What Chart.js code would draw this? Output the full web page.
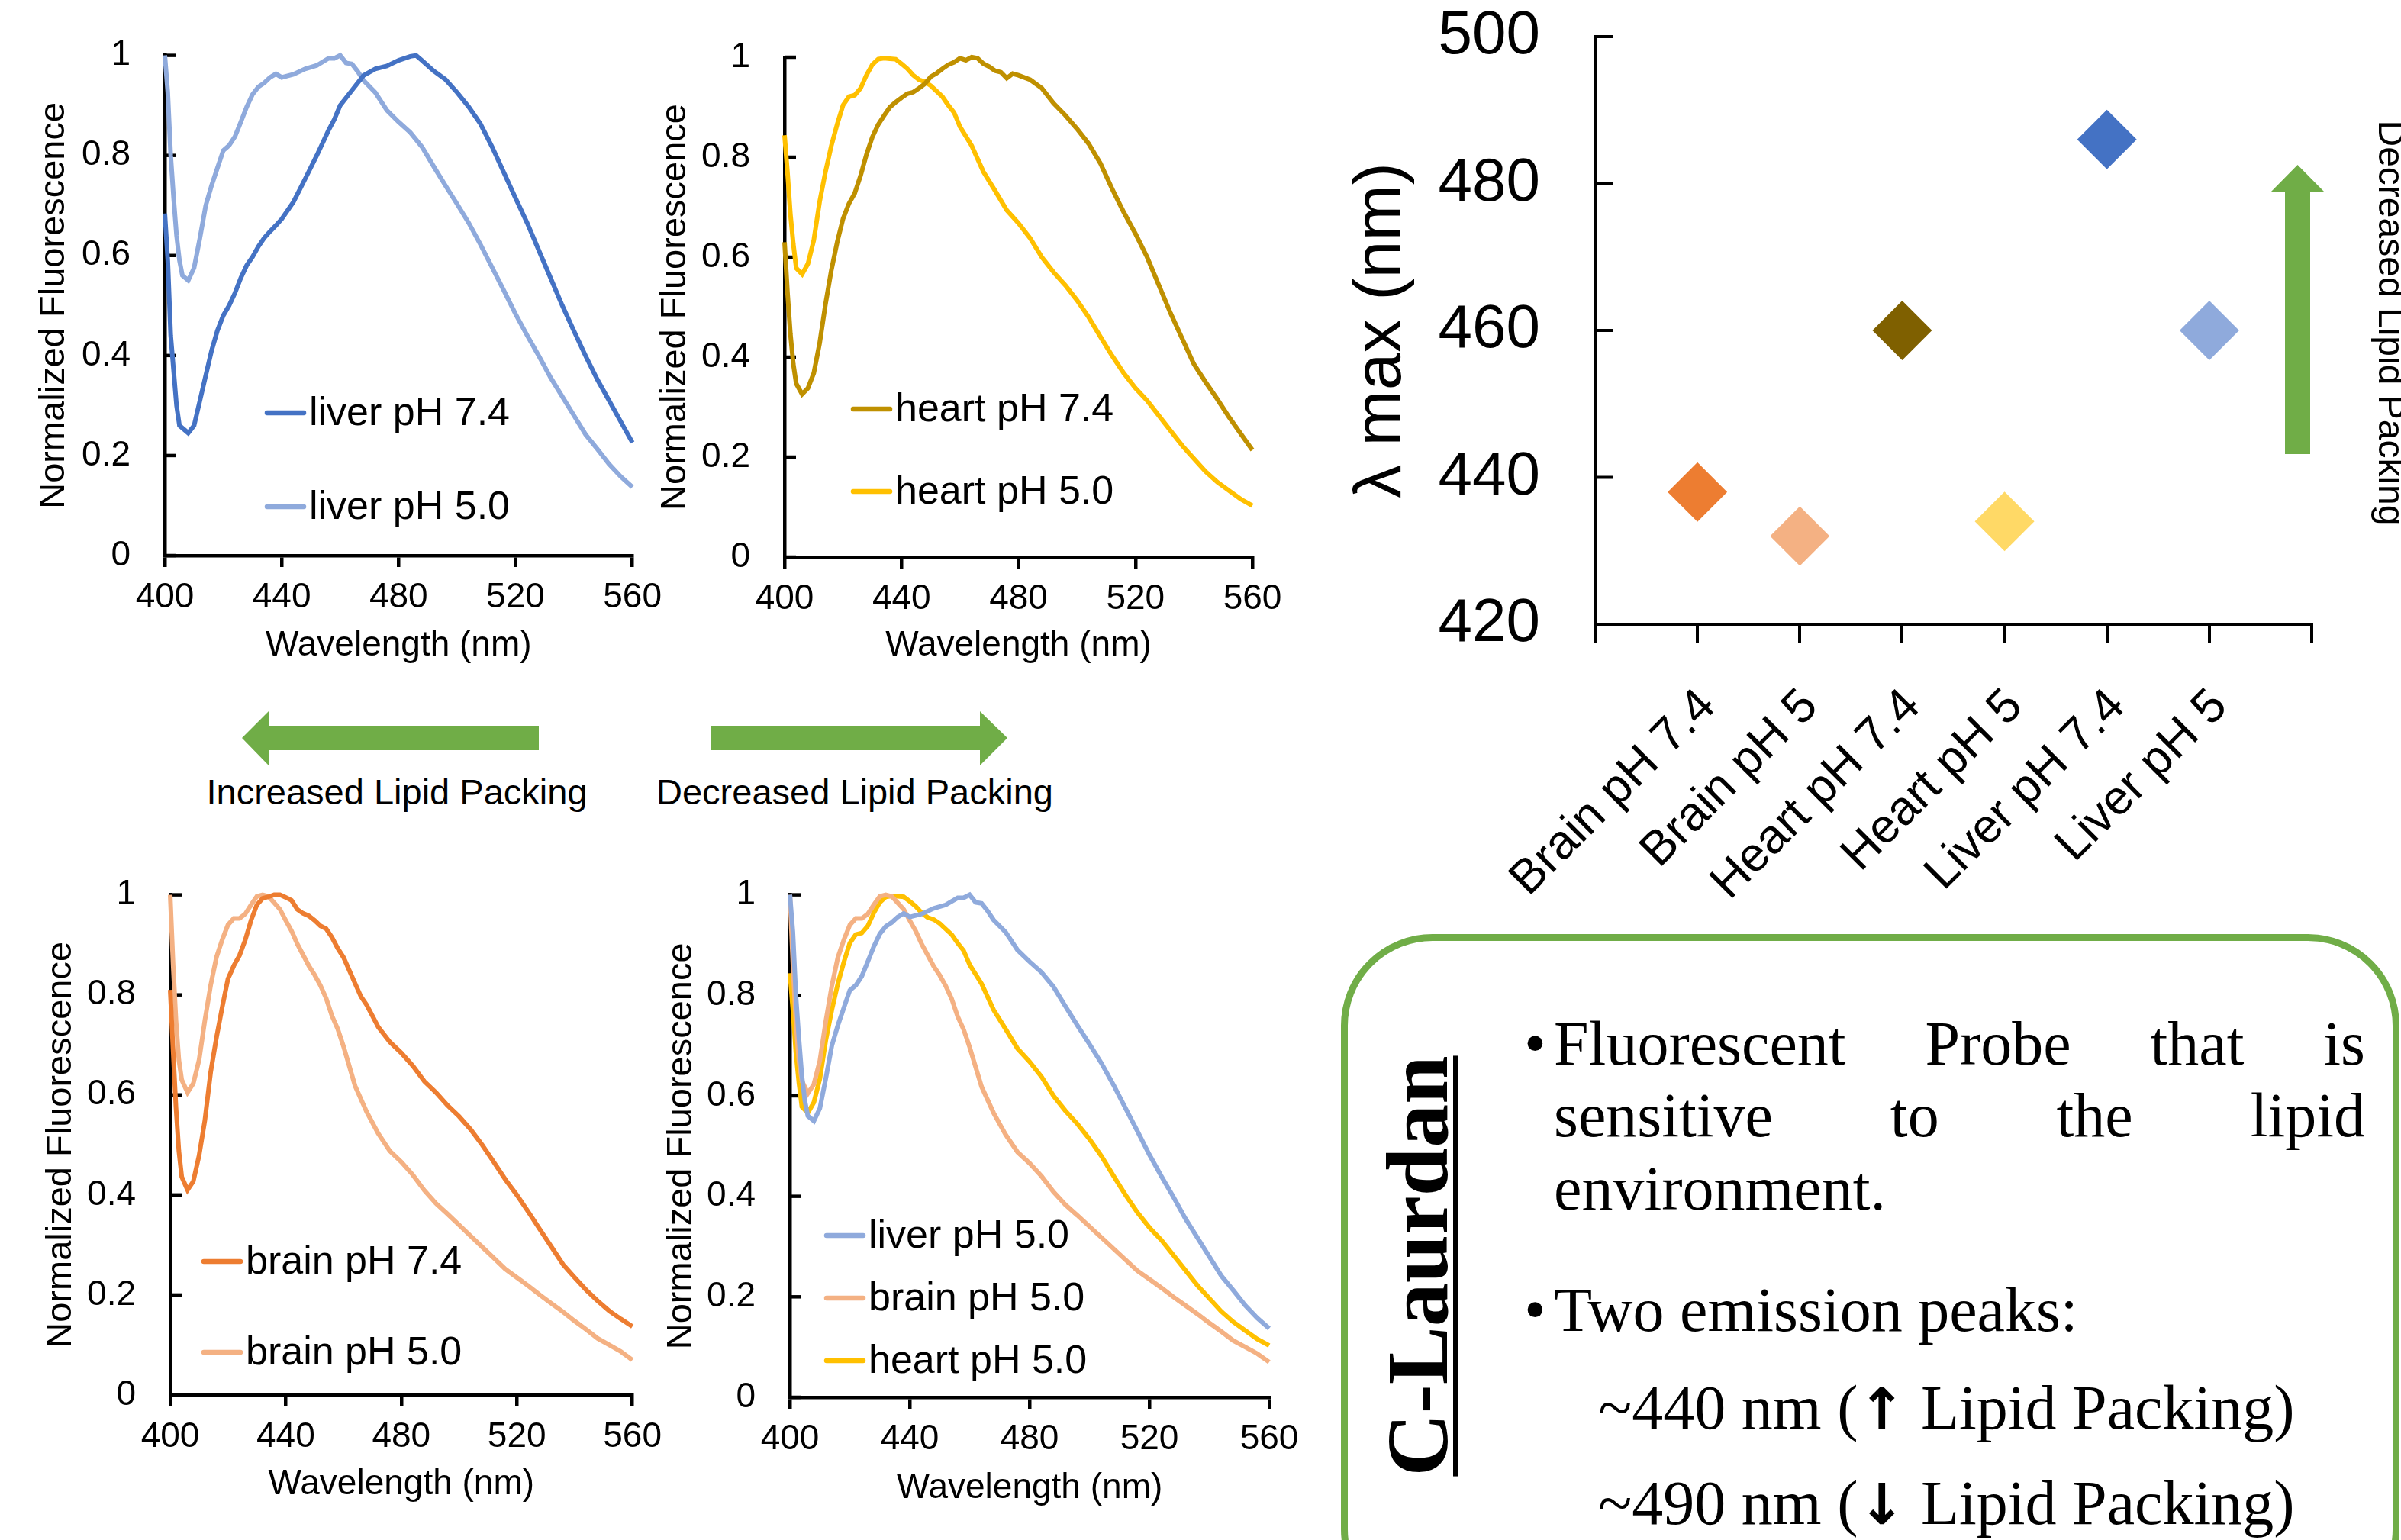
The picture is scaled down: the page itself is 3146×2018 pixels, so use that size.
<!DOCTYPE html>
<html>
<head>
<meta charset="utf-8">
<script src="https://cdn.jsdelivr.net/npm/chart.js@4.4.1/dist/chart.umd.min.js"></script>
<style>
  html, body { margin: 0; padding: 0; background: #fff; }
  #page { position: relative; width: 3146px; height: 2018px; overflow: hidden; background: #fff; }
  canvas { position: absolute; }
  .txt { position: absolute; white-space: nowrap; color: #000; }
  .sans { font-family: 'Liberation Sans', Arial, sans-serif; }
  .serif { font-family: 'Liberation Serif', 'Times New Roman', serif; }
  .arrow { position: absolute; background: #70AD47; }
  .just { text-align: justify; text-align-last: justify; white-space: normal; }
</style>
</head>
<body>
<div id="page">
  <canvas id="liverChart" width="880" height="900" style="left:0;top:0"></canvas>
  <canvas id="heartChart" width="880" height="900" style="left:840px;top:0"></canvas>
  <canvas id="brainChart" width="880" height="918" style="left:0;top:1100px"></canvas>
  <canvas id="acidChart" width="880" height="918" style="left:840px;top:1100px"></canvas>
  <canvas id="lambdaChart" width="1406" height="1272" style="left:1740px;top:-72px"></canvas>

  <!-- arrows between the spectra -->
  <div class="arrow" style="left:317px;top:932px;width:389px;height:71px;clip-path:polygon(0 35px,35px 0,35px 19px,389px 19px,389px 51px,35px 51px,35px 71px)"></div>
  <div class="arrow" style="left:931px;top:932px;width:389px;height:71px;clip-path:polygon(0 19px,353px 19px,353px 0,389px 35px,353px 71px,353px 51px,0 51px)"></div>
  <div class="txt sans" style="left:120px;top:1014px;width:800px;text-align:center;font-size:47px;line-height:47px">Increased Lipid Packing</div>
  <div class="txt sans" style="left:720px;top:1014px;width:800px;text-align:center;font-size:47px;line-height:47px">Decreased Lipid Packing</div>

  <!-- arrow next to the scatter -->
  <div class="arrow" style="left:2975px;top:216px;width:71px;height:379px;clip-path:polygon(35.5px 0,71px 36px,52px 36px,52px 379px,19px 379px,19px 36px,0 36px)"></div>
  <div class="txt sans" style="left:2833px;top:399px;width:600px;text-align:center;font-size:48px;line-height:48px;transform:rotate(90deg)">Decreased Lipid Packing</div>

  <!-- C-Laurdan box -->
  <div style="position:absolute;left:1757px;top:1224px;width:1387px;height:900px;box-sizing:border-box;border:9px solid #70AD47;border-radius:120px"></div>
  <div class="txt serif" style="left:1508px;top:1602px;width:700px;text-align:center;font-size:114px;line-height:114px;font-weight:bold;text-decoration:underline;text-decoration-thickness:6px;text-underline-offset:8px;transform:rotate(-90deg)">C-Laurdan</div>
  <div class="txt serif" style="left:1997px;top:1327px;font-size:82px;line-height:82px">&bull;</div>
  <div class="txt serif just" style="left:2036px;top:1327px;width:1063px;font-size:82px;line-height:82px">Fluorescent Probe that is</div>
  <div class="txt serif just" style="left:2036px;top:1421px;width:1063px;font-size:82px;line-height:82px">sensitive to the lipid</div>
  <div class="txt serif" style="left:2036px;top:1517px;font-size:82px;line-height:82px">environment.</div>
  <div class="txt serif" style="left:1997px;top:1676px;font-size:82px;line-height:82px">&bull;</div>
  <div class="txt serif" style="left:2036px;top:1676px;font-size:82px;line-height:82px">Two emission peaks:</div>
  <div class="txt serif" style="left:2094px;top:1804px;font-size:82px;line-height:82px">~440 nm (<span style="font-family:'DejaVu Sans';font-weight:bold;font-size:74px">&uarr;</span> Lipid Packing)</div>
  <div class="txt serif" style="left:2094px;top:1929px;font-size:82px;line-height:82px">~490 nm (<span style="font-family:'DejaVu Sans';font-weight:bold;font-size:74px">&darr;</span> Lipid Packing)</div>
</div>

<script>
Chart.defaults.font.family = "'Liberation Sans', Arial, sans-serif";
Chart.defaults.color = '#000';

// emission spectra (wavelength nm / normalized intensity)
var liver74Nm = [400, 401, 402, 404, 405, 407, 408, 410, 412, 414, 416, 418, 420, 422, 424, 426, 428, 430, 432, 434, 436, 438, 440,
                 444, 448, 452, 456, 458, 460, 464, 468, 472, 476, 480, 484, 486, 488,
                 492, 496, 500, 504, 508, 512, 516, 520, 524, 528, 532, 536, 540, 544, 548, 552, 556, 560];
var liver74 = [0.684, 0.59, 0.44, 0.30, 0.26, 0.25, 0.245, 0.26, 0.31, 0.36, 0.41, 0.45, 0.48, 0.50, 0.525, 0.555, 0.58, 0.597, 0.618, 0.635, 0.648, 0.66, 0.673,
               0.707, 0.753, 0.80, 0.85, 0.872, 0.90, 0.93, 0.96, 0.973, 0.979, 0.99, 0.998, 1.0, 0.99,
               0.969, 0.952, 0.926, 0.897, 0.863, 0.817, 0.766, 0.715, 0.665, 0.61, 0.555, 0.50, 0.449, 0.399, 0.352, 0.31, 0.268, 0.226];

var liver50Nm = [400, 401, 402, 403, 404, 405, 406, 408, 410, 412, 414, 416, 418, 420, 422, 424, 426, 428, 430, 432, 434, 436, 438, 440,
                 444, 448, 452, 456, 458, 460, 462, 464, 466, 468,
                 472, 476, 480, 484, 488, 492, 496, 500, 504, 508, 512, 516, 520, 524, 528, 532, 536, 540, 544, 548, 552, 556, 560];
var liver50 = [1.0, 0.926, 0.80, 0.715, 0.64, 0.59, 0.56, 0.55, 0.575, 0.635, 0.70, 0.74, 0.775, 0.81, 0.82, 0.838, 0.867, 0.897, 0.922, 0.937, 0.945, 0.956, 0.963, 0.956,
               0.962, 0.973, 0.98, 0.994, 0.994, 1.0, 0.985, 0.983, 0.968, 0.95,
               0.926, 0.89, 0.867, 0.846, 0.817, 0.778, 0.74, 0.703, 0.665, 0.622, 0.576, 0.53, 0.483, 0.44, 0.399, 0.356, 0.318, 0.28, 0.242, 0.213, 0.183, 0.158, 0.137];

var heart74Nm = [400, 401, 402, 403, 404, 406, 408, 410, 412, 414, 416, 418, 420, 422, 424, 426, 428, 430, 432, 434, 436, 438, 440,
                 442, 444, 446, 448, 450, 452, 454, 456, 458, 460, 462, 464, 466, 468, 470, 472, 474, 476, 478,
                 480, 484, 488, 492, 496, 500, 504, 508, 512, 516, 520, 524, 528, 532, 536, 540, 544, 548, 552, 556, 560];
var heart74 = [0.63, 0.53, 0.446, 0.386, 0.347, 0.326, 0.338, 0.368, 0.428, 0.506, 0.574, 0.63, 0.677, 0.707, 0.728, 0.763, 0.805, 0.84, 0.865, 0.883, 0.90, 0.91, 0.919,
               0.927, 0.93, 0.938, 0.947, 0.961, 0.968, 0.977, 0.985, 0.99, 0.998, 0.994, 1.0, 0.998, 0.987, 0.981, 0.973, 0.97, 0.958, 0.967,
               0.964, 0.955, 0.938, 0.908, 0.884, 0.857, 0.827, 0.788, 0.737, 0.69, 0.647, 0.60, 0.544, 0.488, 0.437, 0.386, 0.35, 0.316, 0.28, 0.247, 0.214];

var heart50Nm = [400, 401, 402, 403, 404, 406, 408, 410, 412, 414, 416, 418, 420, 422, 424, 426, 428, 430, 432, 434, 436, 438, 440,
                 442, 444, 446, 448, 450, 452, 454, 456, 458, 460,
                 464, 468, 472, 476, 480, 484, 488, 492, 496, 500, 504, 508, 512, 516, 520, 524, 528, 532, 536, 540, 544, 548, 552, 556, 560];
var heart50 = [0.844, 0.77, 0.686, 0.626, 0.578, 0.566, 0.587, 0.634, 0.711, 0.771, 0.823, 0.866, 0.904, 0.921, 0.924, 0.938, 0.964, 0.985, 0.996, 0.998, 0.997, 0.996, 0.987,
               0.977, 0.964, 0.955, 0.951, 0.943, 0.932, 0.921, 0.904, 0.889, 0.861,
               0.823, 0.771, 0.733, 0.694, 0.668, 0.638, 0.60, 0.57, 0.544, 0.514, 0.48, 0.441, 0.403, 0.368, 0.338, 0.313, 0.283, 0.253, 0.223, 0.197, 0.171, 0.15, 0.133, 0.116, 0.103];

var brain74Nm = [400, 401, 402, 403, 404, 406, 408, 410, 412, 414, 416, 418, 420, 422, 424, 426, 428, 430, 432, 434, 436, 438, 440,
                 442, 444, 446, 448, 450, 452, 454, 456, 458, 460, 462, 464, 466, 468, 470, 472,
                 476, 480, 484, 488, 492, 496, 500, 504, 508, 512, 516, 520, 524, 528, 532, 536, 540, 544, 548, 552, 556, 560];
var brain74 = [0.81, 0.69, 0.575, 0.488, 0.436, 0.41, 0.427, 0.479, 0.549, 0.645, 0.714, 0.775, 0.832, 0.858, 0.879, 0.91, 0.949, 0.98, 0.993, 0.996, 1.0, 1.0, 0.995,
               0.989, 0.971, 0.963, 0.958, 0.949, 0.938, 0.932, 0.915, 0.893, 0.875, 0.849, 0.823, 0.797, 0.78, 0.758, 0.736,
               0.706, 0.684, 0.658, 0.627, 0.605, 0.579, 0.557, 0.531, 0.50, 0.466, 0.431, 0.40, 0.366, 0.331, 0.296, 0.261, 0.235, 0.21, 0.188, 0.168, 0.152, 0.137];

var brain50Nm = [400, 401, 402, 403, 404, 406, 408, 410, 412, 414, 416, 418, 420, 422, 424, 426, 428, 430, 432, 434, 436, 438, 440,
                 442, 444, 446, 448, 450, 452, 454, 456, 458, 460,
                 464, 468, 472, 476, 480, 484, 488, 492, 496, 500, 504, 508, 512, 516, 520, 524, 528, 532, 536, 540, 544, 548, 552, 556, 560];
var brain50 = [1.0, 0.862, 0.749, 0.67, 0.63, 0.605, 0.623, 0.67, 0.749, 0.819, 0.875, 0.91, 0.94, 0.953, 0.953, 0.962, 0.98, 0.997, 1.0, 0.997, 0.984, 0.971, 0.949,
               0.928, 0.902, 0.88, 0.858, 0.84, 0.819, 0.793, 0.758, 0.732, 0.697,
               0.618, 0.566, 0.523, 0.488, 0.466, 0.44, 0.409, 0.383, 0.362, 0.34, 0.318, 0.296, 0.274, 0.252, 0.235, 0.218, 0.20, 0.183, 0.166, 0.148, 0.131, 0.113, 0.10, 0.087, 0.07];

var nmTicks = [400, 440, 480, 520, 560];
var fluorTicks = [0, 0.2, 0.4, 0.6, 0.8, 1];

// lambda max panel
var groups = ['Brain pH 7.4', 'Brain pH 5', 'Heart pH 7.4', 'Heart pH 5', 'Liver pH 7.4', 'Liver pH 5'];
var lambdaMax = [438, 432, 460, 434, 486, 460];
var groupColors = ['#ED7D31', '#F4B183', '#7F6000', '#FFD966', '#4472C4', '#8FAADC'];
var lambdaTicks = [420, 440, 460, 480, 500];

function pts(nm, val) {
     return nm.map(function(w, i) { return {x: w, y: val[i]}; });
}

var liver74Set = {label: 'liver pH 7.4', data: pts(liver74Nm, liver74), color: '#4472C4'};
var liver50Set = {label: 'liver pH 5.0', data: pts(liver50Nm, liver50), color: '#8FAADC'};
var heart74Set = {label: 'heart pH 7.4', data: pts(heart74Nm, heart74), color: '#BF9000'};
var heart50Set = {label: 'heart pH 5.0', data: pts(heart50Nm, heart50), color: '#FFC000'};
var brain74Set = {label: 'brain pH 7.4', data: pts(brain74Nm, brain74), color: '#ED7D31'};
var brain50Set = {label: 'brain pH 5.0', data: pts(brain50Nm, brain50), color: '#F4B183'};

// short tick marks pointing into the plot on the y axis
var innerTicks = {
     id: 'innerTicks',
     beforeDatasetsDraw: function(chart, args, opts) {
          var ctx = chart.ctx, y = chart.scales.y, left = chart.chartArea.left;
          ctx.save();
          ctx.strokeStyle = '#000';
          ctx.lineWidth = opts.width;
          y.ticks.forEach(function(t) {
               var py = y.getPixelForValue(t.value);
               ctx.beginPath();
               ctx.moveTo(left, py);
               ctx.lineTo(left + opts.length, py);
               ctx.stroke();
          });
          ctx.restore();
     }
};

// legend drawn inside the plot area
var boxLegend = {
     id: 'boxLegend',
     afterDraw: function(chart, args, opts) {
          if (!opts.ys) return;
          var ctx = chart.ctx;
          ctx.save();
          ctx.font = opts.size + "px 'Liberation Sans', Arial, sans-serif";
          ctx.textBaseline = 'middle';
          ctx.textAlign = 'left';
          ctx.lineCap = 'round';
          chart.data.datasets.forEach(function(ds, i) {
               var y = opts.ys[i];
               ctx.strokeStyle = ds.borderColor;
               ctx.lineWidth = 6.5;
               ctx.beginPath();
               ctx.moveTo(opts.x + 3, y);
               ctx.lineTo(opts.x + opts.len - 3, y);
               ctx.stroke();
               ctx.fillStyle = '#000';
               ctx.fillText(ds.label, opts.x + opts.len + 4, y + 2);
          });
          ctx.restore();
     }
};

function spectrumChart(idName, sets, lay) {
     var canvas = document.getElementById(idName);
     new Chart(canvas, {
          type: 'line',
          data: {
               datasets: sets.map(function(s) {
                    return {
                         label: s.label,
                         data: s.data,
                         borderColor: s.color,
                         borderWidth: 6,
                         pointRadius: 0,
                         tension: 0,
                         fill: false,
                         clip: false
                    };
               })
          },
          options: {
               responsive: false,
               animation: false,
               devicePixelRatio: 1,
               layout: {autoPadding: false, padding: {left: 0, top: lay.top, right: lay.right, bottom: 0}},
               plugins: {
                    legend: {display: false},
                    tooltip: {enabled: false},
                    innerTicks: {width: 4.5, length: 15},
                    boxLegend: {x: lay.legX, len: 54, ys: lay.legY, size: 52}
               },
               scales: {
                    x: {
                         type: 'linear',
                         min: 400,
                         max: 560,
                         afterBuildTicks: function(s) { s.ticks = nmTicks.map(function(v) { return {value: v}; }); },
                         afterFit: function(s) { s.height = lay.xh; },
                         ticks: {font: {size: 46}, padding: 13, maxRotation: 0},
                         grid: {drawOnChartArea: false, tickLength: 15, color: '#000', lineWidth: 4.5},
                         border: {color: '#000', width: 4.5},
                         title: {display: true, text: 'Wavelength (nm)', font: {size: 46}, padding: {top: 0, bottom: lay.xtb}}
                    },
                    y: {
                         min: 0,
                         max: 1,
                         afterBuildTicks: function(s) { s.ticks = fluorTicks.map(function(v) { return {value: v}; }); },
                         afterFit: function(s) { s.width = lay.yw; },
                         ticks: {font: {size: 46}, padding: 45, callback: function(v) { return '' + v; }},
                         grid: {display: false, drawTicks: false},
                         border: {color: '#000', width: 4.5},
                         title: {display: true, text: 'Normalized Fluorescence', font: {size: 47}, padding: {top: lay.ytp, bottom: 0}}
                    }
               }
          },
          plugins: [innerTicks, boxLegend]
     });
}

spectrumChart('liverChart', [liver74Set, liver50Set],
     {top: 63, right: 46, xh: 172, yw: 216, xtb: 26, ytp: 43, legX: 347, legY: [541, 664]});
spectrumChart('heartChart', [heart74Set, heart50Set],
     {top: 75, right: 79, xh: 170, yw: 188, xtb: 26, ytp: 17, legX: 275, legY: [536, 644]});
spectrumChart('brainChart', [brain74Set, brain50Set],
     {top: 53, right: 43, xh: 190, yw: 223, xtb: 45, ytp: 52, legX: 264, legY: [553, 672]});
spectrumChart('acidChart', [liver50Set, brain50Set, heart50Set],
     {top: 58, right: 57, xh: 187, yw: 195, xtb: 40, ytp: 25, legX: 240, legY: [519, 601, 683]});

// lambda max scatter
new Chart(document.getElementById('lambdaChart'), {
     type: 'scatter',
     data: {
          datasets: [{
               data: groups.map(function(g, i) { return {x: i + 1, y: lambdaMax[i]}; }),
               pointStyle: 'rectRot',
               pointRadius: 39,
               pointHoverRadius: 39,
               backgroundColor: groupColors,
               borderWidth: 0,
               clip: false
          }]
     },
     options: {
          responsive: false,
          animation: false,
          devicePixelRatio: 1,
          layout: {autoPadding: false, padding: {left: 0, top: 64, right: 117, bottom: 0}},
          plugins: {
               legend: {display: false},
               tooltip: {enabled: false},
               innerTicks: {width: 4, length: 24}
          },
          scales: {
               x: {
                    type: 'linear',
                    min: 0,
                    max: groups.length + 1,
                    afterBuildTicks: function(s) {
                         var t = [{value: 0}];
                         groups.forEach(function(g, i) { t.push({value: i + 1}); });
                         t.push({value: groups.length + 1});
                         s.ticks = t;
                    },
                    afterFit: function(s) { s.height = 382; },
                    ticks: {
                         autoSkip: false,
                         minRotation: 45,
                         maxRotation: 45,
                         padding: 46,
                         labelOffset: 14,
                         font: {size: 63},
                         callback: function(v) { return groups[v - 1] || ''; }
                    },
                    grid: {drawOnChartArea: false, tickLength: 25, color: '#000', lineWidth: 4},
                    border: {color: '#000', width: 4}
               },
               y: {
                    min: 420,
                    max: 500,
                    afterBuildTicks: function(s) { s.ticks = lambdaTicks.map(function(v) { return {value: v}; }); },
                    afterFit: function(s) { s.width = 350; },
                    ticks: {font: {size: 80}, padding: 72},
                    grid: {display: false, drawTicks: false},
                    border: {color: '#000', width: 4},
                    title: {display: true, text: 'λ max (nm)', font: {size: 88}, padding: {top: 18, bottom: 0}}
               }
          }
     },
     plugins: [innerTicks]
});
</script>
</body>
</html>
